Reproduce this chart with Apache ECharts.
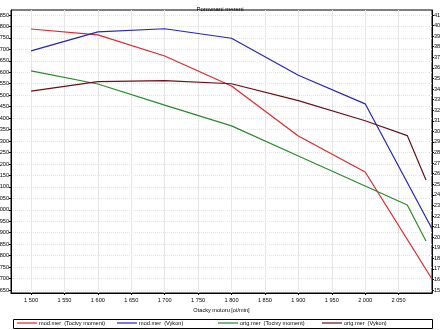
<!DOCTYPE html>
<html>
<head>
<meta charset="utf-8">
<script src="https://cdn.jsdelivr.net/npm/echarts@6/dist/echarts.min.js"></script>
<style>html,body{margin:0;padding:0;background:#fff}#c{width:440px;height:330px}</style>
</head>
<body>
<div id="c"></div>
<script>
var titleText = "Porovnani mereni";
var xName = "Otacky motoru [ot/min]";
var seriesNames = ["mod.mer  (Tocivy moment)", "mod.mer  (Vykon)", "orig.mer  (Tocivy moment)", "orig.mer  (Vykon)"];
var rpmMod = [1500, 1600, 1700, 1800, 1900, 2000, 2100];
var rpmOrig = [1500, 1600, 1700, 1800, 1900, 2000, 2063, 2091];
var modTorque = [1789, 1763, 1671, 1540, 1322, 1165, 698];
var modPower = [376, 394, 397, 388, 353, 326, 208];
var origTorque = [1606, 1549, 1457, 1366, 1235, 1104, 1021, 864];
var origPower = [338, 347, 348, 345, 329, 310, 296, 254];
var xTicks = [1500, 1550, 1600, 1650, 1700, 1750, 1800, 1850, 1900, 1950, 2000, 2050];
var leftTicks = [];
for (var v = 650; v <= 1850; v += 50) leftTicks.push(v);
var rightTicks = [];
for (var w = 150; w <= 410; w += 10) rightTicks.push(w);

function fmt(v) {
  v = Math.round(v);
  if (v >= 1000) {
    var r = String(v % 1000);
    while (r.length < 3) r = '0' + r;
    return Math.floor(v / 1000) + ' ' + r;
  }
  return String(v);
}
function pairs(xs, ys) { return xs.map(function (x, i) { return [x, ys[i]]; }); }

var FONT = 'Liberation Sans, Arial, sans-serif';
var FS = 5.6;
var colors = ['#e3262b', '#2424c4', '#2a8a2a', '#6a1016'];
var legendLefts = [17, 117, 218, 322];

var legends = seriesNames.map(function (n, i) {
  return {
    data: [n], left: legendLefts[i], top: 320, padding: 0,
    icon: 'rect', itemWidth: 20, itemHeight: 1.2, itemGap: 0,
    textStyle: { fontSize: FS, color: '#000', fontFamily: FONT, padding: [0, 0, 0, -3] }
  };
});

var chart = echarts.init(document.getElementById('c'), null, { renderer: 'canvas' });
chart.setOption({
  animation: false,
  backgroundColor: '#fff',
  textStyle: { fontFamily: FONT },
  title: {
    text: titleText, left: 'center', top: 1,
    textStyle: { fontSize: 6, fontWeight: 'normal', color: '#000', fontFamily: FONT }
  },
  grid: { left: 11, right: 8, top: 10, bottom: 37, containLabel: false, outerBoundsMode: 'none', show: true, borderColor: '#000', borderWidth: 1 },
  legend: legends,
  graphic: [{
    type: 'rect', shape: { x: 13.5, y: 319.5, width: 419, height: 9 },
    style: { fill: 'none', stroke: '#000', lineWidth: 1 }, silent: true
  }],
  xAxis: {
    type: 'value', min: 1470, max: 2100,
    name: xName, nameLocation: 'middle', nameGap: 9,
    nameTextStyle: { fontSize: FS, color: '#000', fontFamily: FONT },
    axisLine: { show: true, lineStyle: { color: '#000', width: 1 } },
    axisTick: { show: true, length: 2, customValues: xTicks, lineStyle: { color: '#000' } },
    axisLabel: { customValues: xTicks, fontSize: FS, color: '#000', margin: 4, formatter: fmt },
    splitLine: { show: true, lineStyle: { color: '#e6e6e6', width: 1 } }
  },
  yAxis: [
    {
      type: 'value', position: 'left', min: 636.9, max: 1871.8,
      axisLine: { show: true, lineStyle: { color: '#000', width: 1 } },
      axisTick: { show: true, length: 2, customValues: leftTicks, lineStyle: { color: '#000' } },
      axisLabel: { customValues: leftTicks, fontSize: FS, color: '#000', margin: 2, formatter: fmt },
      splitLine: { show: true, lineStyle: { color: '#e4e4e4', width: 1, type: 'dotted' } }
    },
    {
      type: 'value', position: 'right', min: 147.2, max: 414.7,
      axisLine: { show: true, lineStyle: { color: '#000', width: 1 } },
      axisTick: { show: true, length: 2, customValues: rightTicks, lineStyle: { color: '#000' } },
      axisLabel: { customValues: rightTicks, fontSize: FS, color: '#000', margin: 2, formatter: fmt },
      splitLine: { show: false }
    }
  ],
  series: [
    { name: seriesNames[0], type: 'line', yAxisIndex: 0, data: pairs(rpmMod, modTorque), symbol: 'none', lineStyle: { color: colors[0], width: 1.2 }, itemStyle: { color: colors[0] } },
    { name: seriesNames[1], type: 'line', yAxisIndex: 1, data: pairs(rpmMod, modPower), symbol: 'none', lineStyle: { color: colors[1], width: 1.2 }, itemStyle: { color: colors[1] } },
    { name: seriesNames[2], type: 'line', yAxisIndex: 0, data: pairs(rpmOrig, origTorque), symbol: 'none', lineStyle: { color: colors[2], width: 1.2 }, itemStyle: { color: colors[2] } },
    { name: seriesNames[3], type: 'line', yAxisIndex: 1, data: pairs(rpmOrig, origPower), symbol: 'none', lineStyle: { color: colors[3], width: 1.2 }, itemStyle: { color: colors[3] } }
  ]
});
</script>
</body>
</html>
